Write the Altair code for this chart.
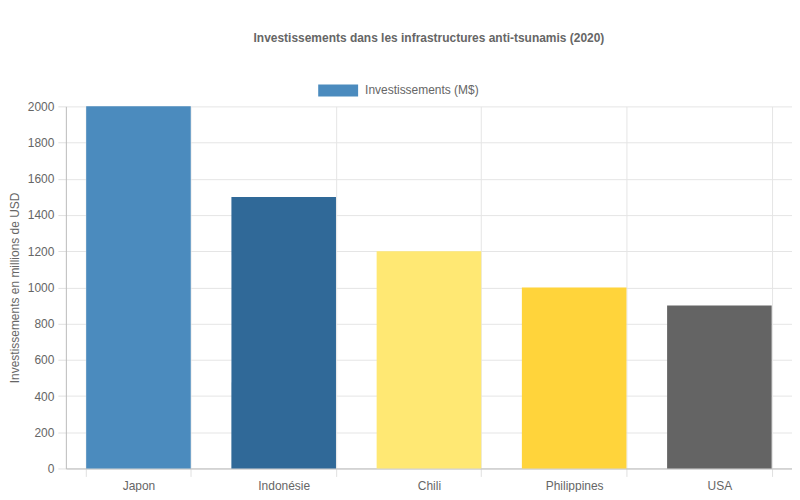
import altair as alt
import pandas as pd

pays = ["Japon", "Indonésie", "Chili", "Philippines", "USA"]
investissements = [2000, 1500, 1200, 1000, 900]
couleurs = ["#4B8BBE", "#306998", "#FFE873", "#FFD43B", "#646464"]
serie = "Investissements (M$)"

df = pd.DataFrame({
    "pays": pays,
    "valeur": investissements,
    "couleur": couleurs,
    "serie": [serie] * len(pays),
})

font = "Liberation Sans"
grey = "#666666"

bars = alt.Chart(df).mark_bar(strokeWidth=0).encode(
    x=alt.X("pays:N", sort=pays, title=None,
            scale=alt.Scale(paddingInner=0.28, paddingOuter=0.14),
            axis=alt.Axis(labelAngle=0, tickBand="extent", grid=True,
                          tickSize=8, labelPadding=4)),
    y=alt.Y("valeur:Q", title="Investissements en millions de USD",
            scale=alt.Scale(domain=[0, 2000], nice=False),
            axis=alt.Axis(values=list(range(0, 2001, 200)), format="d",
                          tickSize=8, labelPadding=4, titlePadding=6)),
    fill=alt.Fill("couleur:N", scale=None),
    opacity=alt.Opacity("serie:N", scale=alt.Scale(range=[1]),
                        legend=alt.Legend(
                            title=None, orient="none", direction="horizontal",
                            legendX=261, legendY=-28,
                            symbolType="M-1.667,-0.5H1.667V0.5H-1.667Z",
                            symbolSize=576, symbolFillColor="#4B8BBE",
                            symbolStrokeWidth=0, symbolOpacity=1,
                            labelOffset=15,
                            labelFontSize=12, labelColor=grey, labelFont=font)),
).properties(
    width=728,
    height=363,
    title=alt.TitleParams("Investissements dans les infrastructures anti-tsunamis (2020)",
                          fontSize=12, fontWeight="bold", color=grey, font=font,
                          offset=34),
    padding={"left": 0, "top": 23, "right": 0, "bottom": 0},
)

chart = bars.configure_axis(
    labelFont=font, labelFontSize=12, labelColor=grey,
    titleFont=font, titleFontSize=12, titleColor=grey, titleFontWeight="normal",
    gridColor="#e5e5e5", domainColor="#bbbbbb", tickColor="#e0e0e0",
).configure_view(stroke=None)

chart.save("out.html", embed_options={"renderer": "svg", "actions": False})
